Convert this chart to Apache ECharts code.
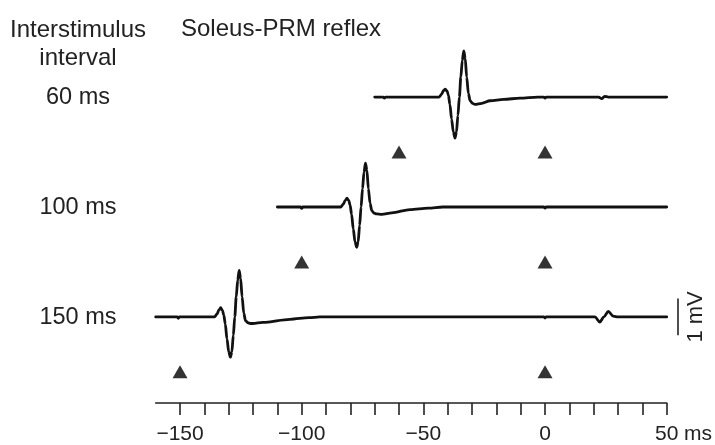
<!DOCTYPE html>
<html>
<head>
<meta charset="utf-8">
<script src="https://cdn.jsdelivr.net/npm/echarts@6/dist/echarts.min.js"></script>
<style>html,body{margin:0;padding:0;background:#fff;}#c{width:715px;height:445px;}</style>
</head>
<body>
<div id="c"></div>
<script>
// ---- data (time in ms, amplitude in mV relative to each trace baseline) ----
var intervalLabels = ['60 ms', '100 ms', '150 ms'];
var baselines = [8.35, 5.35, 2.35];          // vertical offset of each trace (mV)
var triangleOffsets = [-1.5, -1.5, -1.5];    // marker row relative to trace baseline (mV)
var stimTimes60 = [-60, 0];
var stimTimes100 = [-100, 0];
var stimTimes150 = [-150, 0];

var t60 = [-70, -66.5, -66, -65.5,
  -43.5, -42.5, -41.7, -41.0, -40.3, -39.7, -39.1, -38.4, -37.7, -37.0, -36.4, -35.8, -35.2, -34.6, -34.0, -33.4, -32.8, -32.2, -31.5, -30.8, -29.8, -28.8,
  -26, -22.6, -17, -10.3, -3, -0.5, 0, 0.5, 3, 22, 23.3, 24.5, 26, 50];
var v60 = [0, 0, -0.03, 0,
  0, 0.08, 0.18, 0.22, 0.17, 0.05, -0.2, -0.6, -0.95, -1.12, -0.95, -0.5, 0, 0.55, 1.0, 1.26, 1.05, 0.55, 0.1, -0.1, -0.17, -0.2,
  -0.17, -0.1, -0.06, -0.03, 0, 0, -0.03, 0, 0, 0, -0.04, 0.02, 0, 0];

var t100 = [-110, -100.5, -100, -99.5,
  -83.9, -82.9, -82.1, -81.4, -80.7, -80.1, -79.5, -78.8, -78.1, -77.4, -76.8, -76.2, -75.6, -75.0, -74.4, -73.8, -73.2, -72.6, -71.9, -71.2, -70.2, -69.2,
  -67.1, -63, -55.5, -48, -42, -2, -0.5, 0, 0.5, 2, 50];
var v100 = [0, 0, -0.04, 0,
  0, 0.08, 0.18, 0.24, 0.18, 0.05, -0.2, -0.6, -0.95, -1.1, -0.95, -0.5, 0, 0.5, 0.95, 1.2, 1.0, 0.5, 0.1, -0.1, -0.17, -0.19,
  -0.2, -0.16, -0.07, -0.03, 0, 0, 0, -0.03, 0, 0, 0];

var t150 = [-160, -151.2, -150.7, -150.2,
  -135.8, -134.8, -134.0, -133.3, -132.6, -132.0, -131.4, -130.7, -130.0, -129.3, -128.7, -128.1, -127.5, -126.9, -126.3, -125.7, -125.1, -124.5, -123.8, -123.1, -122.1, -121.1,
  -120.1, -116, -104.8, -97, -92.5, -2, -0.5, 0, 0.5, 2, 20.5, 22.5, 24.2, 26, 28, 30, 50];
var v150 = [0, 0, -0.04, 0,
  0, 0.08, 0.19, 0.25, 0.18, 0.05, -0.2, -0.6, -0.95, -1.1, -0.95, -0.5, 0, 0.55, 1.0, 1.27, 1.05, 0.55, 0.1, -0.1, -0.16, -0.18,
  -0.18, -0.15, -0.065, -0.02, 0, 0, 0, -0.03, 0, 0, 0, -0.14, 0, 0.15, 0.02, 0, 0];

var xTickValues = [-150, -140, -130, -120, -110, -100, -90, -80, -70, -60, -50, -40, -30, -20, -10, 0, 10, 20, 30, 40, 50];
var xLabelValues = [-150, -100, -50, 0, 50];
var scaleBarMV = 1;

// ---- build ----
function pairs(ts, vs, base) {
  return ts.map(function (t, i) { return [t, vs[i] + base]; });
}
function tri(ts, base) {
  return ts.map(function (t) { return [t, base]; });
}
var traces = [pairs(t60, v60, baselines[0]), pairs(t100, v100, baselines[1]), pairs(t150, v150, baselines[2])];
var stims = [stimTimes60, stimTimes100, stimTimes150];

var FONT = '"Liberation Sans", Arial, Helvetica, sans-serif';
var chart = echarts.init(document.getElementById('c'), null, { renderer: 'canvas' });

var series = [];
traces.forEach(function (d) {
  series.push({
    type: 'line', data: d, showSymbol: false, smooth: 0.3, smoothMonotone: 'x',
    lineStyle: { color: '#111', width: 2.8, join: 'round', cap: 'round' }, silent: true, animation: false
  });
});
stims.forEach(function (s, i) {
  series.push({
    type: 'scatter', data: tri(s, baselines[i] + triangleOffsets[i]),
    symbol: 'triangle', symbolSize: [15, 13],
    itemStyle: { color: '#000' }, silent: true, animation: false
  });
});

var option = {
  animation: false,
  grid: { left: 155.7, right: 48.3, top: 0, bottom: 37 },
  xAxis: {
    type: 'value', min: -160, max: 50,
    axisLine: { show: true, lineStyle: { color: '#222', width: 1.6 } },
    axisTick: { show: true, customValues: xTickValues, length: 12, lineStyle: { color: '#222', width: 1.6 } },
    axisLabel: {
      show: true, customValues: xLabelValues, margin: 21,
      fontFamily: FONT, fontSize: 21, color: '#222',
      formatter: function (v) { return v < 0 ? '\u2212' + Math.abs(v) : String(v); }
    },
    splitLine: { show: false }
  },
  yAxis: {
    type: 'value', min: 0, max: 11, show: false,
    splitLine: { show: false }
  },
  series: series
};
chart.setOption(option);

// texts & scale bar
var textStyle = function (txt, x, y, align, size, vAlign) {
  return { type: 'text', x: x, y: y, silent: true,
    style: { text: txt, fill: '#222', font: (size || 24) + 'px ' + FONT, align: align || 'center', verticalAlign: vAlign || 'middle' } };
};
var p0 = chart.convertToPixel({ gridIndex: 0 }, [50, baselines[2] - scaleBarMV / 2]);
var p1 = chart.convertToPixel({ gridIndex: 0 }, [50, baselines[2] + scaleBarMV / 2]);
var axisY = chart.convertToPixel({ gridIndex: 0 }, [50, 0])[1];
var graphics = [
  textStyle('Interstimulus', 78, 30),
  textStyle('interval', 78, 58),
  textStyle('Soleus-PRM reflex', 181, 29, 'left'),
  { type: 'line', silent: true, shape: { x1: 678, y1: p1[1], x2: 678, y2: p0[1] }, style: { stroke: '#222', lineWidth: 1.6 } },
  { type: 'text', x: 696, y: (p0[1] + p1[1]) / 2, rotation: Math.PI / 2, silent: true,
    style: { text: '1 mV', fill: '#222', font: '22px ' + FONT, align: 'center', verticalAlign: 'middle' } },
  textStyle('ms', 684, axisY + 21, 'left', 21, 'top')
];
intervalLabels.forEach(function (l, i) {
  var p = chart.convertToPixel({ gridIndex: 0 }, [-160, baselines[i]]);
  graphics.push(textStyle(l, 78, p[1] + 0.5, 'center', 23.5));
});
chart.setOption({ graphic: graphics });
</script>
</body>
</html>
